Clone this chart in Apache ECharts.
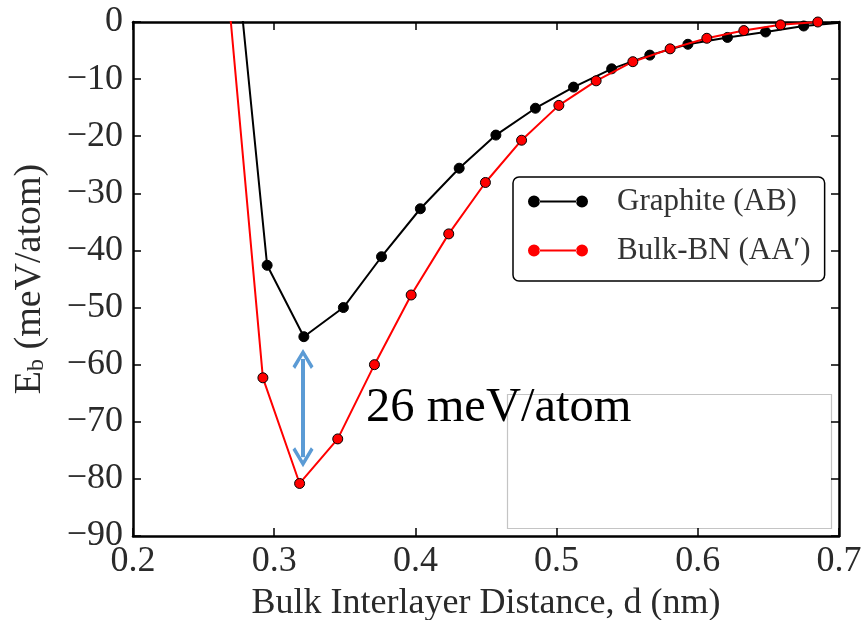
<!DOCTYPE html>
<html>
<head>
<meta charset="utf-8">
<script src="https://cdn.jsdelivr.net/npm/echarts@6/dist/echarts.min.js"></script>
<style>
html,body{margin:0;padding:0;background:#fff;}
#chart{width:865px;height:620px;}
</style>
</head>
<body>
<div id="chart"></div>
<script>
// Graphite (AB): [d (nm), Eb (meV/atom)]
const graphiteX = [0.268, 0.295, 0.321, 0.349, 0.376, 0.4035, 0.431, 0.457, 0.485, 0.512, 0.539, 0.566, 0.593, 0.621, 0.648, 0.675, 0.702];
const graphiteY = [24.5, -42.6, -55.1, -50.0, -41.1, -32.7, -25.6, -19.8, -15.1, -11.4, -8.2, -5.8, -3.9, -2.7, -1.75, -0.7, -0.1];
// Bulk-BN (AA'): [d (nm), Eb (meV/atom)]
const bnX = [0.265, 0.292, 0.318, 0.345, 0.371, 0.397, 0.4236, 0.4496, 0.4752, 0.5016, 0.528, 0.554, 0.5804, 0.6064, 0.6326, 0.6586, 0.685];
const bnY = [11.8, -62.3, -80.8, -73.0, -60.0, -47.8, -37.1, -28.1, -20.7, -14.6, -10.3, -6.95, -4.7, -2.85, -1.5, -0.5, 0.0];
// annotation: binding energy difference
const arrowX = 0.3204;
const arrowTop = -59.0;
const arrowBottom = -76.2;
const annotationText = '26 meV/atom';
const seriesNames = ['Graphite (AB)', 'Bulk-BN (AA\u2032)'];
const xTicks = [0.2, 0.3, 0.4, 0.5, 0.6, 0.7];
const yTicks = [0, -10, -20, -30, -40, -50, -60, -70, -80, -90];

const zip = (xs, ys) => xs.map((x, i) => [x, ys[i]]);
const serif = '"Liberation Serif", "DejaVu Serif", serif';
const txt = '#2a2a2a';

const chart = echarts.init(document.getElementById('chart'), null, {renderer: 'canvas'});

const legendIcon = 'path://M0,10 A10,10 0 1,0 20,10 A10,10 0 1,0 0,10 Z M80,10 A10,10 0 1,0 100,10 A10,10 0 1,0 80,10 Z M19,8.4 L81,8.4 L81,11.6 L19,11.6 Z';
const chevron = 'path://M0,13 L10,0 L20,13 L17.5,15 L10,5 L2.5,15 Z';

const baseX = {
  type: 'value', min: xTicks[0], max: xTicks[xTicks.length - 1], interval: 0.1,
  axisLine: {show: true, onZero: false, lineStyle: {color: '#000', width: 2.5}},
  axisTick: {show: true, inside: true, length: 8, lineStyle: {color: '#000', width: 1.5}},
  splitLine: {show: false}
};
const baseY = {
  type: 'value', min: yTicks[yTicks.length - 1], max: yTicks[0], interval: 10,
  axisLine: {show: true, onZero: false, lineStyle: {color: '#000', width: 2.5}},
  axisTick: {show: true, inside: true, length: 8, lineStyle: {color: '#000', width: 1.5}},
  splitLine: {show: false}
};

chart.setOption({
  animation: false,
  backgroundColor: '#fff',
  grid: {left: 133, right: 26, top: 22, bottom: 84, containLabel: false, outerBoundsMode: 'none'},
  xAxis: [
    Object.assign({}, baseX, {
      position: 'bottom',
      axisLabel: {show: true, margin: 8, color: txt, fontFamily: serif, fontSize: 36,
        formatter: v => v.toFixed(1)},
      name: 'Bulk Interlayer Distance, d (nm)',
      nameLocation: 'middle', nameGap: 50,
      nameTextStyle: {color: txt, fontFamily: serif, fontSize: 36}
    }),
    Object.assign({}, baseX, {position: 'top', axisLabel: {show: false}})
  ],
  yAxis: [
    Object.assign({}, baseY, {
      position: 'left',
      axisLabel: {show: true, margin: 10, color: txt, fontFamily: serif, fontSize: 36,
        formatter: v => String(Math.round(v)).replace('-', '\u2212')},
      name: '{e|E}{s|b}{e| (meV/atom)}',
      nameLocation: 'middle', nameGap: 84,
      nameTextStyle: {
        color: txt, fontFamily: serif, fontSize: 38,
        rich: {
          e: {fontFamily: serif, fontSize: 38, color: txt},
          s: {fontFamily: serif, fontSize: 24, color: txt, verticalAlign: 'bottom', padding: [14, 0, 0, 0]}
        }
      }
    }),
    Object.assign({}, baseY, {position: 'right', axisLabel: {show: false}})
  ],
  legend: {
    show: true, orient: 'vertical', left: 513, top: 177,
    data: [
      {name: seriesNames[0], itemStyle: {color: '#000', borderWidth: 0}},
      {name: seriesNames[1], itemStyle: {color: '#ff0000', borderWidth: 0}}
    ],
    icon: legendIcon, itemWidth: 60, itemHeight: 12, itemGap: 18,
    padding: [9, 14, 15, 15],
    backgroundColor: '#fff', borderColor: '#000', borderWidth: 1.5, borderRadius: 6,
    textStyle: {fontFamily: serif, fontSize: 31, color: '#333', padding: [0, 0, 0, 24]}
  },
  graphic: [
    {type: 'rect', z: 0, shape: {x: 507.5, y: 394.5, width: 324, height: 134},
     style: {fill: '#fff', stroke: '#c4c4c4', lineWidth: 1.2}},
    {type: 'text', z: 100, left: 366, top: 384,
     style: {text: annotationText, fontFamily: serif, fontSize: 48.5, fill: '#000'}}
  ],
  series: [
    {
      name: seriesNames[0], type: 'line', xAxisIndex: 0, yAxisIndex: 0,
      data: zip(graphiteX, graphiteY), clip: true, z: 3,
      symbol: 'circle', symbolSize: 10, showAllSymbol: true,
      lineStyle: {color: '#000', width: 2},
      itemStyle: {color: '#000', borderColor: '#000', borderWidth: 1}
    },
    {
      name: seriesNames[1], type: 'line', xAxisIndex: 0, yAxisIndex: 0,
      data: zip(bnX, bnY), clip: true, z: 4,
      symbol: 'circle', symbolSize: 10, showAllSymbol: true,
      lineStyle: {color: '#ff0000', width: 2},
      itemStyle: {color: '#ff0000', borderColor: '#000', borderWidth: 1},
      markLine: {
        silent: true, z: 5,
        symbol: [chevron, chevron], symbolSize: [21, 20],
        label: {show: false},
        lineStyle: {color: '#5b9bd5', width: 4, type: 'solid'},
        itemStyle: {color: '#5b9bd5'},
        data: [[{coord: [arrowX, arrowTop]}, {coord: [arrowX, arrowBottom]}]]
      }
    }
  ]
});
</script>
</body>
</html>
